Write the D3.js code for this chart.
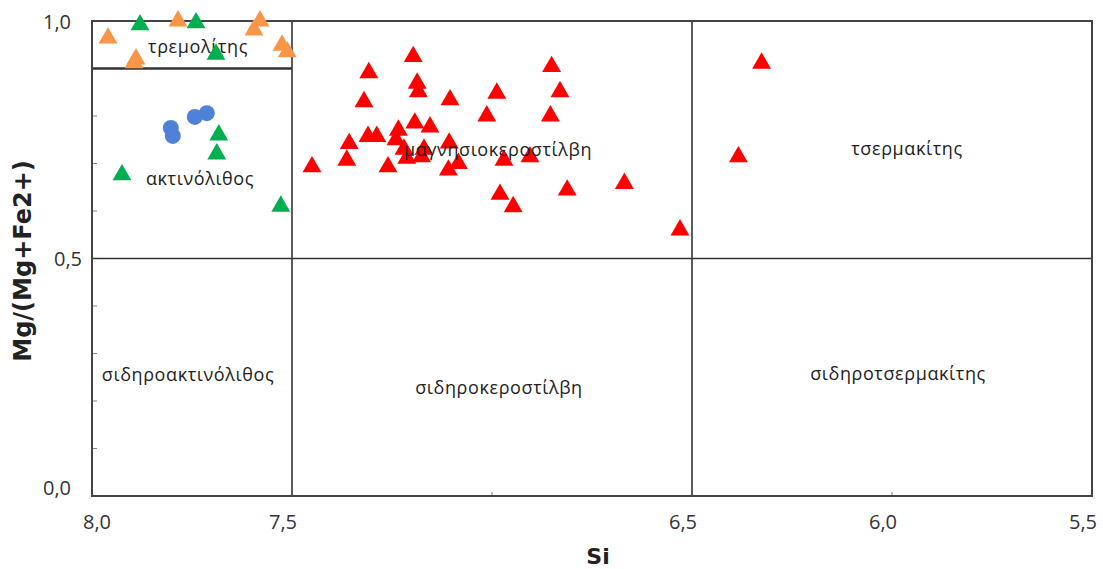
<!DOCTYPE html>
<html>
<head>
<meta charset="utf-8">
<script src="https://cdn.jsdelivr.net/npm/d3@7"></script>
<style>
  body { margin: 0; background: #fff; }
  svg text { font-family: "Open Sans", "DejaVu Sans", sans-serif; }
</style>
</head>
<body>
<div id="chart"></div>
<script>
// points: [Si, Mg/(Mg+Fe2+)]
const orangePts = [[7.96, 0.964], [7.895, 0.912], [7.89, 0.92], [7.785, 1.0], [7.58, 1.0],
  [7.595, 0.981], [7.525, 0.949], [7.512, 0.935]];
const greenPts = [[7.88, 0.992], [7.74, 0.996], [7.69, 0.93], [7.683, 0.76], [7.688, 0.72],
  [7.925, 0.676], [7.528, 0.61]];
const bluePts = [[7.803, 0.775], [7.798, 0.758], [7.743, 0.798], [7.713, 0.806]];
const redPts = [[7.45, 0.693], [7.363, 0.707], [7.357, 0.742], [7.32, 0.83], [7.308, 0.891],
  [7.31, 0.757], [7.288, 0.757], [7.26, 0.693], [7.24, 0.75], [7.234, 0.77],
  [7.213, 0.711], [7.197, 0.925], [7.187, 0.869], [7.184, 0.851], [7.193, 0.785],
  [7.155, 0.777], [7.17, 0.73], [7.176, 0.714], [7.22, 0.73], [7.105, 0.834],
  [7.107, 0.743], [7.109, 0.686], [7.084, 0.70], [7.013, 0.80], [6.988, 0.848],
  [6.97, 0.707], [6.98, 0.635], [6.947, 0.609], [6.905, 0.714], [6.851, 0.904],
  [6.83, 0.851], [6.854, 0.80], [6.812, 0.644], [6.669, 0.658], [6.53, 0.56],
  [6.326, 0.911], [6.384, 0.714]];

const xTicks = [8.0, 7.5, 6.5, 6.0, 5.5];
const yTicks = [0.0, 0.5, 1.0];
const yMinor = [0.1, 0.2, 0.3, 0.4, 0.6, 0.7, 0.8, 0.9];
const xMinor = [7.0, 6.0];

// field boundaries: [x1, y1, x2, y2]
const fieldLines = [[7.5, 0, 7.5, 1], [6.5, 0, 6.5, 1], [8, 0.5, 5.5, 0.5], [8, 0.9, 7.5, 0.9]];
const fieldNames = ["τρεμολίτης", "ακτινόλιθος", "μαγνησιοκεροστίλβη", "τσερμακίτης",
  "σιδηροακτινόλιθος", "σιδηροκεροστίλβη", "σιδηροτσερμακίτης"];
const fieldPos = [[7.735, 0.947], [7.73, 0.669], [6.985, 0.73], [5.9625, 0.733],
  [7.76, 0.257], [6.9825, 0.229], [5.985, 0.259]];

const W = 1103, H = 569;
const svg = d3.select("#chart").append("svg").attr("width", W).attr("height", H);

const x = d3.scaleLinear().domain([8, 5.5]).range([92, 1092]);
const y = d3.scaleLinear().domain([0, 1]).range([496, 21]);
const fmt = v => d3.format(".1f")(v).replace(".", ",");

// minor ticks (inside)
svg.selectAll(".ymin").data(yMinor).enter().append("line")
  .attr("x1", x(8)).attr("x2", x(8) + 5)
  .attr("y1", d => y(d)).attr("y2", d => y(d))
  .attr("stroke", "#888").attr("stroke-width", 1);
svg.selectAll(".xmin").data(xMinor).enter().append("line")
  .attr("x1", d => x(d)).attr("x2", d => x(d))
  .attr("y1", y(0)).attr("y2", y(0) - 4)
  .attr("stroke", "#888").attr("stroke-width", 1);

// field lines
svg.selectAll(".field").data(fieldLines).enter().append("line")
  .attr("x1", d => x(d[0])).attr("y1", d => y(d[1]))
  .attr("x2", d => x(d[2])).attr("y2", d => y(d[3]))
  .attr("stroke", "#333").attr("stroke-width", d => d[1] == 0.9 ? 2.5 : 1.6);

// frame
svg.append("rect")
  .attr("x", x(8)).attr("y", y(1))
  .attr("width", x(5.5) - x(8)).attr("height", y(0) - y(1))
  .attr("fill", "none").attr("stroke", "#444").attr("stroke-width", 2);

// tick labels (Excel nudges them a bit)
svg.selectAll(".xl").data(xTicks).enter().append("text")
  .attr("x", d => d == 8 ? x(d) + 5 : x(d) - 9).attr("y", 529)
  .attr("text-anchor", "middle").attr("font-size", 20).attr("fill", "#333")
  .text(fmt);
svg.selectAll(".yl").data(yTicks).enter().append("text")
  .attr("x", d => d == 0.5 ? 82 : 71)
  .attr("y", d => y(d) + 7 - (d == 0 ? 8 : 0) + (d == 1 ? 1 : 0))
  .attr("text-anchor", "end").attr("font-size", 20).attr("fill", "#333")
  .text(fmt);

// axis titles
svg.append("text")
  .attr("transform", "translate(31,261) rotate(-90)")
  .attr("text-anchor", "middle").attr("font-size", 24).attr("font-weight", "bold")
  .style("font-family", "'DejaVu Sans', sans-serif")
  .attr("fill", "#222").text("Mg/(Mg+Fe2+)");
svg.append("text")
  .attr("x", 598).attr("y", 564)
  .attr("text-anchor", "middle").attr("font-size", 22).attr("font-weight", "bold")
  .style("font-family", "'DejaVu Sans', sans-serif")
  .attr("fill", "#222").text("Si");

// field names
svg.selectAll(".fname").data(fieldNames).enter().append("text")
  .attr("x", (d, i) => x(fieldPos[i][0])).attr("y", (d, i) => y(fieldPos[i][1]))
  .attr("text-anchor", "middle").attr("dominant-baseline", "central")
  .attr("font-size", 18).attr("letter-spacing", 0.6).attr("fill", "#222")
  .text(d => d);

// points
const tri = d3.symbol().type(d3.symbolTriangle).size(155);
function drawTri(data, color) {
  svg.append("g").selectAll("path").data(data).enter().append("path")
    .attr("d", tri)
    .attr("transform", d => "translate(" + x(d[0]) + "," + y(d[1]) + ")")
    .attr("fill", color);
}
drawTri(redPts, "#ff0000");
drawTri(orangePts, "#f79646");
drawTri(greenPts, "#00b050");
svg.append("g").selectAll("circle").data(bluePts).enter().append("circle")
  .attr("cx", d => x(d[0])).attr("cy", d => y(d[1])).attr("r", 8)
  .attr("fill", "#4f81d9");

// the magnesiohornblende label sits over the red points
svg.selectAll("text").filter(function () { return d3.select(this).text() == fieldNames[2]; }).raise();
</script>
</body>
</html>
